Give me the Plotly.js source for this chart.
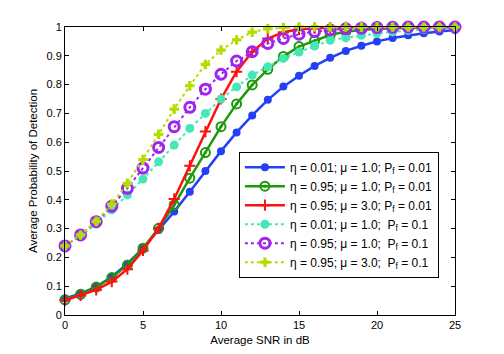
<!DOCTYPE html>
<html>
<head>
<meta charset="utf-8">
<script src="https://cdn.plot.ly/plotly-3.0.1.min.js"></script>
<style>
  html, body { margin: 0; padding: 0; background: #ffffff; }
  #chart { width: 504px; height: 354px; }
</style>
</head>
<body>
<div id="chart"></div>
<script>
const snr = [0, 1, 2, 3, 4, 5, 6, 7, 8, 9, 10, 11, 12, 13, 14, 15, 16, 17, 18, 19, 20, 21, 22, 23, 24, 25];

const blueP001 = [0.057, 0.075, 0.098, 0.133, 0.178, 0.232, 0.295, 0.359, 0.428, 0.500, 0.569, 0.634, 0.693, 0.747, 0.793, 0.831, 0.865, 0.893, 0.917, 0.935, 0.950, 0.962, 0.971, 0.978, 0.984, 0.990];
const greenP001 = [0.053, 0.072, 0.097, 0.130, 0.173, 0.232, 0.301, 0.382, 0.475, 0.564, 0.654, 0.733, 0.799, 0.853, 0.898, 0.932, 0.953, 0.972, 0.984, 0.990, 0.994, 0.996, 0.998, 0.999, 1.0, 1.0];
const redP001 = [0.051, 0.068, 0.087, 0.116, 0.159, 0.224, 0.301, 0.403, 0.518, 0.637, 0.750, 0.845, 0.914, 0.960, 0.982, 0.992, 0.996, 0.998, 0.999, 1.0, 1.0, 1.0, 1.0, 1.0, 1.0, 1.0];
const tealP01 = [0.240, 0.275, 0.316, 0.365, 0.417, 0.472, 0.532, 0.590, 0.648, 0.700, 0.750, 0.792, 0.833, 0.862, 0.891, 0.913, 0.934, 0.954, 0.962, 0.971, 0.978, 0.983, 0.988, 0.991, 0.994, 0.996];
const purpleP01 = [0.240, 0.278, 0.324, 0.378, 0.440, 0.510, 0.582, 0.654, 0.721, 0.784, 0.836, 0.882, 0.914, 0.943, 0.960, 0.975, 0.984, 0.990, 0.994, 0.996, 0.998, 0.999, 1.0, 1.0, 1.0, 1.0];
const yellowP01 = [0.240, 0.278, 0.325, 0.385, 0.457, 0.540, 0.627, 0.715, 0.796, 0.870, 0.920, 0.955, 0.982, 0.994, 0.998, 1.0, 1.0, 1.0, 1.0, 1.0, 1.0, 1.0, 1.0, 1.0, 1.0, 1.0];

const legendNames = [
  "η = 0.01; μ = 1.0; P<sub>f</sub> = 0.01",
  "η = 0.95; μ = 1.0; P<sub>f</sub> = 0.01",
  "η = 0.95; μ = 3.0; P<sub>f</sub> = 0.01",
  "η = 0.01; μ = 1.0;\u00a0 P<sub>f</sub> = 0.1",
  "η = 0.95; μ = 1.0;\u00a0 P<sub>f</sub> = 0.1",
  "η = 0.95; μ = 3.0;\u00a0 P<sub>f</sub> = 0.1",
];

const xTicks = [0, 5, 10, 15, 20, 25];
const yTicks = [0, 0.1, 0.2, 0.3, 0.4, 0.5, 0.6, 0.7, 0.8, 0.9, 1];

const FONT = "Liberation Sans, Arial, sans-serif";

function makeTrace(y, name, color, dash, marker) {
  return {
    type: "scatter",
    mode: "lines+markers",
    x: snr,
    y,
    name,
    line: { color, width: dash === "solid" ? 2.5 : 2, dash },
    marker,
    cliponaxis: false,
  };
}

const traces = [
  makeTrace(blueP001, legendNames[0], "#2340f5", "solid",
    { symbol: "circle", size: 8, color: "#2340f5" }),
  makeTrace(greenP001, legendNames[1], "#1c9a0a", "solid",
    { symbol: "circle-open-dot", size: 9, color: "#1c9a0a", line: { width: 2, color: "#1c9a0a" } }),
  makeTrace(redP001, legendNames[2], "#ff1010", "solid",
    { symbol: "cross-thin-open", size: 8, color: "#ff1010", line: { width: 2, color: "#ff1010" } }),
  makeTrace(tealP01, legendNames[3], "#45e8b4", "dot",
    { symbol: "circle", size: 9, color: "#45e8b4" }),
  makeTrace(purpleP01, legendNames[4], "#a024f0", "dot",
    { symbol: "circle-open", size: 10, color: "#a024f0", line: { width: 3, color: "#a024f0" } }),
  makeTrace(yellowP01, legendNames[5], "#b4dc00", "dot",
    { symbol: "cross", size: 8, color: "#b4dc00", line: { width: 0 } }),
];

const axisCommon = {
  showgrid: false,
  zeroline: false,
  showline: true,
  linecolor: "#000000",
  linewidth: 1,
  mirror: "ticks",
  ticks: "inside",
  ticklen: 4,
  tickcolor: "#000000",
  tickfont: { family: FONT, size: 11, color: "#000000" },
};

const layout = {
  width: 504,
  height: 354,
  margin: { l: 65, r: 49, t: 27, b: 39 },
  paper_bgcolor: "#ffffff",
  plot_bgcolor: "#ffffff",
  showlegend: true,
  legend: {
    x: 0.446,
    y: 0.567,
    xanchor: "left",
    yanchor: "top",
    bgcolor: "#ffffff",
    bordercolor: "#000000",
    borderwidth: 1,
    itemwidth: 40,
    tracegroupgap: 0,
    font: { family: FONT, size: 12, color: "#000000" },
  },
  xaxis: {
    ...axisCommon,
    range: [0, 25],
    tickmode: "array",
    tickvals: xTicks,
    ticktext: xTicks.map(String),
    title: { text: "Average SNR in dB", standoff: 5, font: { family: FONT, size: 11.5, color: "#000000" } },
  },
  yaxis: {
    ...axisCommon,
    range: [0, 1],
    tickmode: "array",
    tickvals: yTicks,
    ticktext: yTicks.map(String),
    title: { text: "Average Probability of Detection", standoff: 6, font: { family: FONT, size: 11.5, color: "#000000" } },
  },
};

Plotly.newPlot("chart", traces, layout, { displayModeBar: false, responsive: false });
</script>
</body>
</html>
